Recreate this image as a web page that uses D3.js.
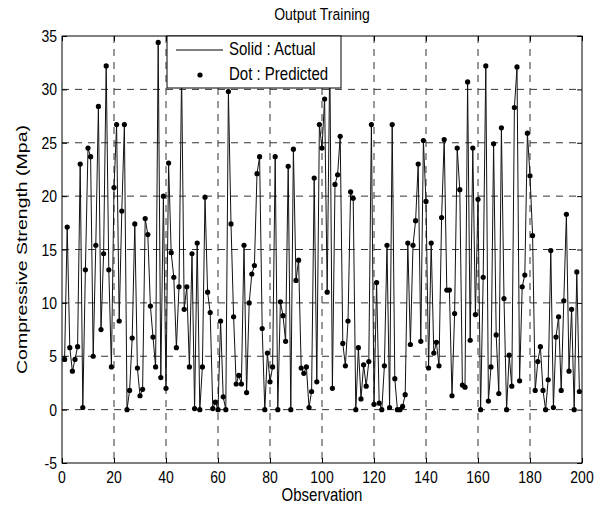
<!DOCTYPE html>
<html>
<head>
<meta charset="utf-8">
<script src="https://cdn.jsdelivr.net/npm/d3@7"></script>
<style>
  html, body { margin: 0; padding: 0; background: #fff; }
  #chart text { font-family: "Liberation Sans", Arial, Helvetica, sans-serif; fill: #000; }
</style>
</head>
<body>
<div id="chart"></div>
<script>
// Compressive strength per observation (actual line and predicted dots coincide)
const strength = [
    4.7, 17.1, 5.8, 3.6, 4.7, 5.9, 23.0, 0.2, 13.1, 24.5,
    23.7, 5.0, 15.4, 28.4, 7.5, 14.6, 32.2, 13.1, 4.0, 20.8,
    26.7, 8.3, 18.6, 26.7, 0.0, 1.8, 6.7, 17.4, 3.9, 1.3,
    1.9, 17.9, 16.4, 9.7, 6.8, 4.0, 34.4, 3.0, 20.0, 2.0,
    23.1, 14.7, 12.4, 5.8, 11.5, 31.5, 9.4, 11.5, 4.0, 14.6,
    0.1, 15.6, 0.0, 4.0, 19.9, 11.0, 9.1, 0.1, 0.7, 0.0,
    8.3, 1.2, 0.0, 29.8, 17.4, 8.7, 2.4, 3.2, 2.4, 15.4,
    1.6, 10.0, 12.7, 13.5, 22.1, 23.7, 7.6, 0.0, 5.3, 2.6,
    4.0, 23.7, 0.0, 10.1, 8.8, 6.4, 22.8, 0.0, 24.4, 12.1,
    14.0, 3.9, 3.4, 4.0, 0.2, 1.7, 21.7, 2.6, 26.7, 24.5,
    29.1, 11.0, 33.0, 2.0, 21.1, 22.0, 25.6, 6.2, 4.1, 8.3,
    20.4, 19.8, 0.0, 5.8, 1.0, 4.2, 2.2, 4.5, 26.7, 0.5,
    11.9, 0.6, 0.0, 4.1, 15.4, 0.2, 26.7, 2.9, 0.0, 0.0,
    0.3, 1.4, 15.6, 6.1, 15.4, 17.7, 23.0, 6.4, 25.2, 19.5,
    3.9, 15.6, 5.3, 6.3, 4.1, 18.0, 25.3, 11.2, 11.2, 1.3,
    9.0, 24.5, 20.6, 2.3, 2.1, 30.7, 6.5, 24.5, 8.9, 19.7,
    0.0, 12.4, 32.2, 0.8, 4.0, 24.9, 7.0, 1.5, 26.4, 10.4,
    0.0, 5.1, 2.2, 28.3, 32.1, 2.7, 11.5, 12.6, 25.9, 21.9,
    16.3, 1.8, 4.5, 5.9, 1.8, 0.0, 2.8, 14.9, 0.2, 6.8,
    8.7, 1.8, 10.2, 18.3, 3.6, 9.4, 0.0, 12.9, 1.7
];
const xTicks = [0, 20, 40, 60, 80, 100, 120, 140, 160, 180, 200];
const yTicks = [-5, 0, 5, 10, 15, 20, 25, 30, 35];
const legendLabels = ["Solid : Actual", "Dot : Predicted"];

const width = 608, height = 506;
const margin = { top: 36, right: 26, bottom: 43, left: 62 };
const innerW = width - margin.left - margin.right;
const innerH = height - margin.top - margin.bottom;
// the reference glyphs are taller than wide
const stretch = 1.22;

const svg = d3.select("#chart").append("svg")
    .attr("width", width)
    .attr("height", height);

const g = svg.append("g")
    .attr("transform", `translate(${margin.left},${margin.top})`);

const x = d3.scaleLinear().domain([0, 200]).range([0, innerW]);
const y = d3.scaleLinear().domain([-5, 35]).range([innerH, 0]);

// helper for stretched horizontal text
function label(parent, tx, ty, txt, anchor, size) {
    return parent.append("text")
        .attr("transform", `translate(${tx},${ty}) scale(1,${stretch})`)
        .attr("text-anchor", anchor)
        .style("font-size", size + "px")
        .text(txt);
}

// grid, dashed like matlab
g.append("g")
    .selectAll("line")
    .data(xTicks.slice(1, -1))
    .join("line")
    .attr("x1", d => x(d)).attr("x2", d => x(d))
    .attr("y1", 0).attr("y2", innerH)
    .attr("stroke", "#333")
    .attr("stroke-dasharray", "7,6");

g.append("g")
    .selectAll("line")
    .data(yTicks.slice(1, -1))
    .join("line")
    .attr("x1", 0).attr("x2", innerW)
    .attr("y1", d => y(d)).attr("y2", d => y(d))
    .attr("stroke", "#333")
    .attr("stroke-dasharray", "7,6");

// axes with inward ticks, labels drawn separately
g.append("g")
    .attr("transform", `translate(0,${innerH})`)
    .call(d3.axisBottom(x).tickValues(xTicks).tickFormat("").tickSize(-5));
g.append("g")
    .call(d3.axisLeft(y).tickValues(yTicks).tickFormat("").tickSize(-5));
g.append("g")
    .call(d3.axisTop(x).tickValues(xTicks).tickFormat("").tickSize(-5));
g.append("g")
    .attr("transform", `translate(${innerW},0)`)
    .call(d3.axisRight(y).tickValues(yTicks).tickFormat("").tickSize(-5));

g.selectAll(".domain").remove();
g.selectAll(".tick line").attr("stroke", "#000");

xTicks.forEach(t => label(g, x(t), innerH + 20, t, "middle", 14));
yTicks.forEach(t => label(g, -5, y(t) + 6, t, "end", 14));

// data
const line = d3.line()
    .x((d, i) => x(i + 1))
    .y(d => y(d));

g.append("path")
    .datum(strength)
    .attr("fill", "none")
    .attr("stroke", "#111")
    .attr("stroke-width", 1)
    .attr("d", line);

g.append("g")
    .selectAll("circle")
    .data(strength)
    .join("circle")
    .attr("cx", (d, i) => x(i + 1))
    .attr("cy", d => y(d))
    .attr("r", 2.6)
    .attr("fill", "#000");

// frame
g.append("rect")
    .attr("width", innerW)
    .attr("height", innerH)
    .attr("fill", "none")
    .attr("stroke", "#000");

// legend
const lg = g.append("g").attr("transform", `translate(${x(40) + 1},0)`);
lg.append("rect")
    .attr("width", 174)
    .attr("height", 52)
    .attr("fill", "#fff")
    .attr("stroke", "#000");
lg.append("line")
    .attr("x1", 9).attr("x2", 56)
    .attr("y1", 14).attr("y2", 14)
    .attr("stroke", "#000");
lg.append("circle")
    .attr("cx", 33).attr("cy", 39)
    .attr("r", 2.6)
    .attr("fill", "#000");
legendLabels.forEach((t, i) => label(lg, 62, 19 + i * 25, t, "start", 15));

// titles
label(svg, margin.left + innerW / 2, 20, "Output Training", "middle", 14);
label(svg, margin.left + innerW / 2, 501, "Observation", "middle", 15);

svg.append("text")
    .attr("transform", `translate(27,${margin.top + innerH / 2}) scale(1,1.3) rotate(-90)`)
    .attr("text-anchor", "middle")
    .style("font-size", "15px")
    .text("Compressive Strength (Mpa)");
</script>
</body>
</html>
